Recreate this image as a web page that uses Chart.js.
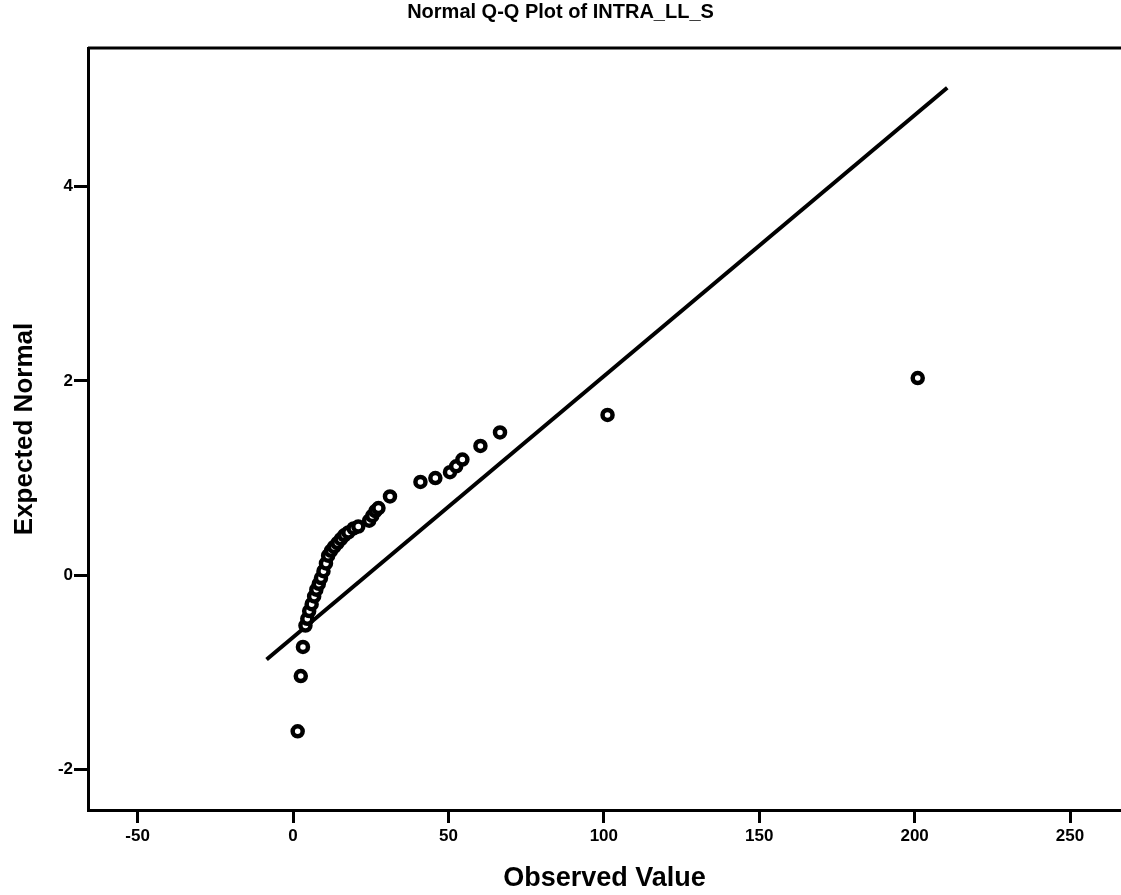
<!DOCTYPE html>
<html>
<head>
<meta charset="utf-8">
<title>Normal Q-Q Plot of INTRA_LL_S</title>
<script src="https://cdn.jsdelivr.net/npm/chart.js@4.4.1/dist/chart.umd.min.js"></script>
<style>
  html, body { margin: 0; padding: 0; background: #fff; overflow: hidden; }
  canvas { display: block; }
</style>
</head>
<body>
<canvas id="qq" width="1121" height="895"></canvas>
<script>
const observed = [1.5, 2.5, 3.2, 4, 4.6, 5.2, 6, 6.8, 7.5, 8.3, 9, 9.8, 10.6, 11.3, 12.2, 13.2,
  14.3, 15.4, 16.5, 17.8, 19.5, 21, 24.5, 25.5, 26.5, 27.5, 31.2, 41, 45.8, 50.5, 52.5, 54.5,
  60.3, 66.6, 101.2, 201];
const expected = [-1.61, -1.04, -0.74, -0.52, -0.45, -0.37, -0.3, -0.22, -0.15, -0.09, -0.03, 0.04,
  0.12, 0.2, 0.25, 0.29, 0.33, 0.37, 0.41, 0.44, 0.48, 0.5, 0.56, 0.61, 0.66, 0.69, 0.81, 0.96,
  1.0, 1.06, 1.12, 1.19, 1.33, 1.47, 1.65, 2.03];

// reference line end points
const lineX = [-8.5, 210.5];
const lineY = [-0.87, 5.02];

const xTicks = [-50, 0, 50, 100, 150, 200, 250];
const yTicks = [-2, 0, 2, 4];

const FONT = '"Liberation Sans", Arial, Helvetica, sans-serif';

const points = observed.map((v, i) => ({x: v, y: expected[i]}));
const refLine = lineX.map((v, i) => ({x: v, y: lineY[i]}));

// top edge of the SPSS frame (left and bottom come from the axes, right is cut off)
const frame = {
  id: 'frame',
  afterDatasetsDraw(chart) {
    const {ctx, chartArea: a} = chart;
    ctx.save();
    ctx.strokeStyle = '#000';
    ctx.lineWidth = 3;
    ctx.beginPath();
    ctx.moveTo(a.left, a.top);
    ctx.lineTo(a.right, a.top);
    ctx.stroke();
    ctx.restore();
  }
};

new Chart(document.getElementById('qq'), {
  type: 'scatter',
  data: {
    datasets: [
      {
        label: 'line',
        data: refLine,
        showLine: true,
        borderColor: '#000',
        borderWidth: 4,
        pointRadius: 0,
        order: 2
      },
      {
        label: 'INTRA_LL_S',
        data: points,
        pointRadius: 5,
        pointBorderWidth: 4.5,
        pointBorderColor: '#000',
        pointBackgroundColor: '#fff',
        order: 1
      }
    ]
  },
  options: {
    responsive: false,
    animation: false,
    layout: { padding: 0, autoPadding: false },
    plugins: {
      legend: { display: false },
      tooltip: { enabled: false },
      title: {
        display: true,
        text: 'Normal Q-Q Plot of INTRA_LL_S',
        color: '#000',
        font: { family: FONT, size: 20, weight: 'bold' },
        padding: { top: 0, bottom: 24 }
      }
    },
    scales: {
      x: {
        type: 'linear',
        min: -65.96,
        max: 266.4,
        afterFit: s => { s.height = 85; s.paddingLeft = 0; s.paddingRight = 0; },
        afterBuildTicks: s => { s.ticks = xTicks.map(v => ({value: v})); },
        border: { display: true, color: '#000', width: 3 },
        grid: { drawOnChartArea: false, drawTicks: true, tickLength: 13, color: '#000', lineWidth: 3 },
        ticks: { color: '#000', padding: 3, font: { family: FONT, size: 17, weight: 'bold' } },
        title: {
          display: true,
          text: 'Observed Value',
          color: '#000',
          font: { family: FONT, size: 27, weight: 'bold' },
          padding: { top: 0, bottom: 0 }
        }
      },
      y: {
        type: 'linear',
        min: -2.42,
        max: 5.43,
        afterFit: s => { s.width = 88; s.paddingTop = 0; s.paddingBottom = 0; },
        afterBuildTicks: s => { s.ticks = yTicks.map(v => ({value: v})); },
        border: { display: true, color: '#000', width: 3 },
        grid: { drawOnChartArea: false, drawTicks: true, tickLength: 14, color: '#000', lineWidth: 3 },
        ticks: { color: '#000', padding: 1, font: { family: FONT, size: 17, weight: 'bold' } },
        title: {
          display: true,
          text: 'Expected Normal',
          color: '#000',
          font: { family: FONT, size: 26, weight: 'bold' },
          padding: { top: 9, bottom: 0 }
        }
      }
    }
  },
  plugins: [frame]
});
</script>
</body>
</html>
